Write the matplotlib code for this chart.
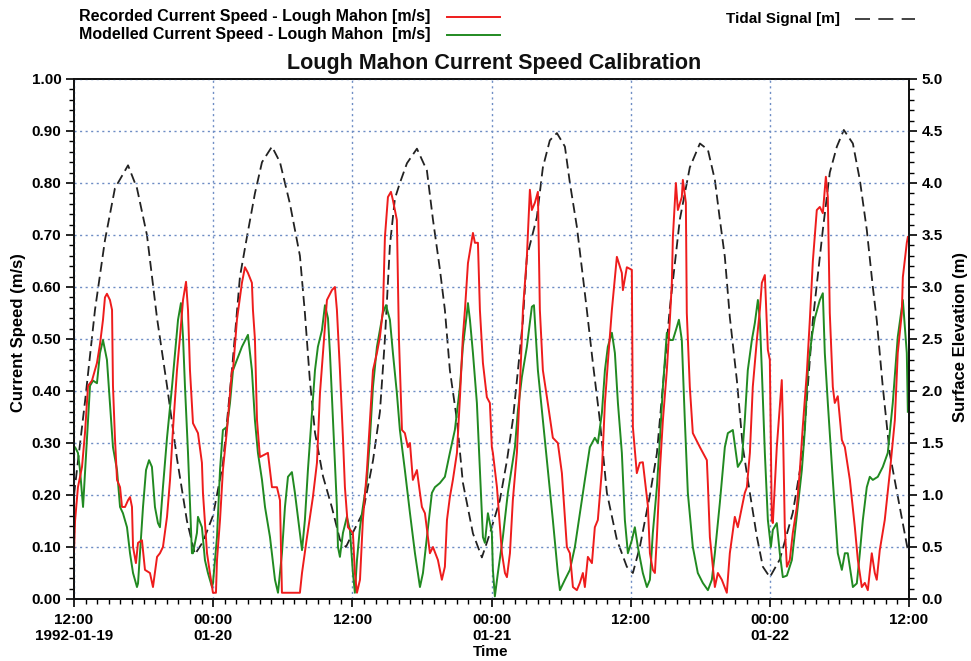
import numpy as np
import pandas as pd
import matplotlib
matplotlib.use('Agg')
import matplotlib.pyplot as plt
from matplotlib.lines import Line2D
from matplotlib.ticker import MultipleLocator, FixedLocator

plt.rcParams['font.family'] = ['Liberation Sans', 'DejaVu Sans']

START = pd.Timestamp('1992-01-19 12:00')

# (hours since 1992-01-19 12:00, surface elevation m)
tide = [(0.00,1.00),(0.95,1.90),(1.81,2.78),(2.67,3.45),(3.53,3.95),(4.66,4.17),(5.43,3.95),(6.29,3.50),
        (7.16,2.70),(8.02,2.05),(8.88,1.35),(9.74,0.75),(10.43,0.43),(11.12,0.55),(11.98,0.80),(12.84,1.30),
        (13.62,2.20),(14.31,3.10),(14.91,3.48),(15.60,3.90),(16.21,4.20),(17.07,4.35),(17.76,4.20),(18.62,3.80),
        (19.48,3.30),(19.91,2.75),(20.34,2.10),(20.78,1.60),(21.47,1.18),(22.24,0.88),(22.93,0.57),(23.45,0.50),
        (24.05,0.64),(24.91,0.83),(25.78,1.33),(26.38,1.80),(26.81,2.50),(27.24,3.40),(27.67,3.85),(28.10,4.00),
        (28.71,4.19),(29.57,4.33),(30.43,4.12),(30.95,3.65),(31.55,3.17),(31.98,2.78),(32.41,2.20),(33.02,1.72),
        (33.53,1.12),(34.40,0.63),(35.17,0.40),(35.86,0.63),(36.72,0.95),(37.33,1.33),(37.84,1.72),(38.28,2.20),
        (38.71,2.68),(39.05,3.29),(39.91,3.67),(40.43,4.15),(41.03,4.41),(41.64,4.48),(42.33,4.35),(42.76,4.00),
        (43.36,3.58),(43.88,3.10),(44.22,2.78),(44.74,2.27),(45.34,1.72),(45.95,1.02),(46.81,0.57),(47.67,0.31),
        (48.19,0.25),(48.79,0.50),(49.66,1.00),(50.26,1.40),(50.78,2.05),(51.38,2.80),(52.24,3.65),(53.10,4.15),
        (53.97,4.38),(54.66,4.32),(55.26,4.03),(55.69,3.65),(56.12,3.29),(56.55,2.71),(57.16,2.10),(57.67,1.46),
        (58.28,1.02),(58.88,0.60),(59.40,0.31),(60.00,0.21),(60.86,0.38),(61.98,0.83),(62.84,1.40),(63.45,2.30),
        (63.71,2.68),(64.57,3.55),(65.17,4.10),(65.78,4.35),(66.38,4.51),(67.16,4.38),(67.76,4.03),(68.36,3.55),
        (68.88,3.00),(69.22,2.68),(69.74,2.04),(70.34,1.40),(71.21,0.88),(71.90,0.47)]

# (hours, recorded current speed m/s)
recorded = [(0.00,0.09),(0.09,0.15),(0.34,0.215),(0.69,0.254),(0.95,0.32),(1.21,0.41),(1.55,0.42),(1.98,0.454),
    (2.24,0.49),(2.50,0.537),(2.67,0.58),(2.84,0.587),(3.10,0.575),(3.28,0.556),(3.36,0.41),(3.53,0.31),(3.71,0.229),
    (3.97,0.215),(4.14,0.177),(4.40,0.177),(4.66,0.19),(4.83,0.196),(5.00,0.177),(5.09,0.10),(5.34,0.069),(5.52,0.108),
    (5.86,0.113),(6.12,0.056),(6.55,0.05),(6.81,0.023),(7.16,0.081),(7.41,0.088),(7.67,0.10),(8.02,0.158),(8.28,0.229),
    (8.53,0.325),(8.88,0.44),(9.14,0.504),(9.40,0.575),(9.66,0.61),(9.83,0.556),(10.00,0.44),(10.26,0.338),(10.69,0.319),
    (11.03,0.262),(11.12,0.204),(11.47,0.088),(11.72,0.05),(11.98,0.012),(12.24,0.012),(12.33,0.075),(12.59,0.152),
    (12.84,0.248),(13.19,0.325),(13.62,0.44),(13.71,0.44),(14.05,0.537),(14.48,0.608),(14.74,0.638),(15.00,0.627),
    (15.34,0.608),(15.43,0.556),(15.60,0.50),(15.78,0.344),(16.03,0.273),(16.72,0.281),(17.07,0.215),(17.50,0.215),
    (17.76,0.19),(17.93,0.012),(19.48,0.012),(19.66,0.05),(20.09,0.119),(20.60,0.196),(20.95,0.262),(21.21,0.396),
    (21.47,0.473),(21.81,0.575),(22.24,0.594),(22.50,0.60),(22.67,0.556),(22.93,0.44),(23.19,0.31),(23.36,0.215),
    (23.53,0.165),(23.62,0.138),(24.05,0.127),(24.22,0.05),(24.40,0.012),(24.66,0.037),(24.91,0.152),(25.26,0.248),
    (25.52,0.344),(25.78,0.44),(26.12,0.473),(26.38,0.504),(26.64,0.556),(26.81,0.696),(27.07,0.773),(27.33,0.783),
    (27.50,0.767),(27.84,0.729),(28.02,0.50),(28.28,0.325),(28.53,0.319),(28.79,0.292),(28.97,0.30),(29.22,0.229),
    (29.57,0.248),(29.83,0.204),(30.00,0.177),(30.26,0.165),(30.69,0.088),(30.95,0.10),(31.38,0.075),(31.72,0.037),
    (31.98,0.062),(32.16,0.152),(32.41,0.196),(32.67,0.229),(33.02,0.281),(33.28,0.388),(33.53,0.504),(33.71,0.556),
    (33.97,0.646),(34.40,0.704),(34.57,0.685),(34.83,0.685),(35.00,0.556),(35.26,0.454),(35.60,0.388),(35.86,0.377),
    (36.03,0.292),(36.12,0.281),(36.47,0.215),(36.90,0.088),(37.16,0.05),(37.33,0.042),(37.59,0.088),(37.84,0.19),
    (38.19,0.281),(38.45,0.408),(38.71,0.556),(39.05,0.658),(39.31,0.787),(39.48,0.748),(39.74,0.762),(40.00,0.783),
    (40.17,0.556),(40.43,0.44),(40.78,0.388),(41.29,0.31),(41.72,0.30),(42.07,0.242),(42.50,0.10),(42.76,0.088),
    (43.02,0.023),(43.36,0.017),(43.62,0.031),(43.88,0.05),(44.05,0.023),(44.31,0.081),(44.66,0.069),(44.91,0.138),
    (45.17,0.152),(45.52,0.248),(45.78,0.377),(46.03,0.454),(46.38,0.556),(46.81,0.658),(47.24,0.627),(47.33,0.594),
    (47.67,0.638),(48.10,0.633),(48.19,0.331),(48.53,0.242),(48.79,0.262),(49.05,0.263),(49.40,0.196),(49.48,0.18),
    (49.66,0.088),(49.91,0.056),(50.09,0.05),(50.26,0.119),(50.52,0.248),(50.78,0.344),(51.12,0.44),(51.38,0.537),
    (51.55,0.608),(51.64,0.696),(51.90,0.80),(52.07,0.748),(52.41,0.773),(52.50,0.806),(52.76,0.762),(52.84,0.55),
    (53.10,0.408),(53.36,0.319),(53.97,0.292),(54.57,0.267),(54.66,0.22),(54.83,0.119),(55.26,0.023),(55.52,0.05),
    (55.86,0.037),(56.29,0.012),(56.55,0.088),(56.98,0.158),(57.24,0.138),(57.59,0.177),(57.84,0.204),(58.02,0.215),
    (58.28,0.281),(58.53,0.408),(58.88,0.498),(59.14,0.556),(59.31,0.608),(59.57,0.623),(59.83,0.479),(60.00,0.46),
    (60.17,0.152),(60.26,0.146),(60.60,0.292),(60.86,0.369),(61.03,0.421),(61.12,0.344),(61.29,0.138),(61.47,0.062),
    (61.72,0.075),(61.98,0.127),(62.33,0.177),(62.59,0.248),(62.84,0.331),(63.19,0.435),(63.45,0.537),(63.71,0.65),
    (64.05,0.748),(64.31,0.754),(64.57,0.742),(64.83,0.812),(65.00,0.773),(65.17,0.55),(65.43,0.408),(65.60,0.377),
    (65.86,0.39),(66.21,0.306),(66.47,0.292),(66.90,0.229),(67.33,0.138),(67.59,0.075),(67.93,0.023),(68.19,0.031),
    (68.45,0.017),(68.79,0.088),(69.05,0.05),(69.22,0.037),(69.48,0.094),(69.91,0.152),(70.34,0.242),(70.78,0.344),
    (71.03,0.473),(71.38,0.55),(71.47,0.619),(71.81,0.685),(71.90,0.696)]

# (hours, modelled current speed m/s)
modelled = [(0.00,0.29),(0.09,0.292),(0.34,0.281),(0.52,0.248),(0.78,0.177),(1.12,0.31),(1.38,0.41),(1.64,0.42),
    (1.98,0.415),(2.24,0.473),(2.50,0.498),(2.84,0.46),(3.10,0.377),(3.36,0.292),(3.71,0.248),(3.97,0.177),(4.22,0.165),
    (4.57,0.138),(4.83,0.088),(5.09,0.05),(5.43,0.023),(5.52,0.03),(5.69,0.088),(5.95,0.177),(6.21,0.248),(6.47,0.267),
    (6.72,0.254),(6.98,0.177),(7.24,0.146),(7.41,0.138),(7.67,0.215),(8.02,0.31),(8.45,0.408),(8.71,0.473),(8.97,0.537),
    (9.22,0.569),(9.40,0.504),(9.57,0.408),(9.83,0.281),(10.17,0.088),(10.26,0.088),(10.60,0.127),(10.69,0.158),
    (11.03,0.138),(11.29,0.075),(11.55,0.05),(11.90,0.023),(11.98,0.03),(12.33,0.119),(12.59,0.248),(12.84,0.325),
    (13.19,0.331),(13.45,0.377),(13.71,0.44),(14.05,0.46),(14.48,0.485),(14.91,0.504),(15.00,0.508),(15.34,0.44),
    (15.60,0.344),(15.86,0.281),(16.21,0.229),(16.47,0.177),(16.90,0.119),(17.33,0.037),(17.59,0.012),(17.93,0.088),
    (18.19,0.177),(18.45,0.235),(18.79,0.244),(19.05,0.204),(19.48,0.127),(19.66,0.094),(19.91,0.152),(20.17,0.248),
    (20.52,0.358),(20.78,0.44),(21.03,0.485),(21.38,0.517),(21.64,0.565),(21.90,0.54),(22.07,0.473),(22.33,0.344),
    (22.67,0.177),(22.76,0.10),(22.93,0.081),(23.19,0.127),(23.53,0.158),(23.79,0.133),(24.05,0.05),(24.22,0.012),
    (24.40,0.075),(24.66,0.138),(24.91,0.177),(25.26,0.229),(25.52,0.31),(25.78,0.408),(26.12,0.485),(26.38,0.517),
    (26.64,0.55),(26.90,0.565),(27.24,0.537),(27.50,0.473),(27.84,0.396),(28.10,0.325),(28.53,0.248),(28.97,0.165),
    (29.40,0.088),(29.83,0.023),(30.09,0.05),(30.43,0.119),(30.86,0.204),(31.12,0.215),(31.55,0.223),(31.98,0.235),
    (32.41,0.281),(32.84,0.325),(33.28,0.408),(33.53,0.485),(33.88,0.55),(33.97,0.569),(34.14,0.537),(34.40,0.473),
    (34.74,0.377),(35.00,0.248),(35.26,0.119),(35.43,0.108),(35.69,0.165),(36.03,0.127),(36.12,0.056),(36.29,0.005),
    (36.55,0.05),(36.98,0.119),(37.41,0.204),(37.76,0.254),(38.02,0.292),(38.28,0.363),(38.62,0.427),(39.05,0.485),
    (39.48,0.562),(39.66,0.565),(40.00,0.44),(40.43,0.344),(40.86,0.248),(41.29,0.152),(41.72,0.05),(41.90,0.017),
    (42.33,0.037),(42.76,0.056),(43.19,0.10),(43.62,0.165),(44.05,0.229),(44.48,0.292),(44.91,0.31),(45.17,0.30),
    (45.52,0.358),(45.78,0.44),(46.03,0.485),(46.38,0.512),(46.64,0.473),(46.90,0.377),(47.24,0.281),(47.50,0.152),
    (47.76,0.088),(48.10,0.113),(48.36,0.138),(48.62,0.10),(49.05,0.05),(49.40,0.023),(49.66,0.037),(49.91,0.127),
    (50.26,0.215),(50.52,0.306),(50.78,0.408),(51.12,0.512),(51.38,0.498),(51.64,0.498),(51.98,0.523),(52.16,0.537),
    (52.41,0.498),(52.67,0.344),(52.93,0.204),(53.36,0.10),(53.79,0.05),(54.22,0.031),(54.66,0.017),(55.00,0.037),
    (55.26,0.088),(55.69,0.185),(56.12,0.292),(56.38,0.319),(56.81,0.325),(57.24,0.254),(57.59,0.267),(57.84,0.344),
    (58.10,0.44),(58.45,0.498),(58.71,0.531),(58.97,0.575),(59.14,0.537),(59.31,0.44),(59.57,0.281),(59.83,0.152),
    (60.09,0.10),(60.26,0.133),(60.60,0.146),(60.86,0.088),(61.12,0.042),(61.47,0.045),(61.90,0.075),(62.16,0.127),
    (62.41,0.177),(62.76,0.248),(63.02,0.325),(63.28,0.44),(63.62,0.504),(63.88,0.54),(64.31,0.575),(64.57,0.588),
    (64.74,0.473),(65.00,0.377),(65.43,0.229),(65.86,0.088),(66.21,0.056),(66.47,0.088),(66.72,0.088),(67.16,0.023),
    (67.50,0.03),(67.76,0.088),(68.02,0.152),(68.36,0.215),(68.62,0.235),(68.88,0.229),(69.31,0.235),(69.74,0.254),
    (70.17,0.281),(70.60,0.377),(71.03,0.504),(71.47,0.575),(71.81,0.473),(71.90,0.36)]

xtick_hours = [0, 12, 24, 36, 48, 60, 72]
xtick_labels = ['12:00\n1992-01-19', '00:00\n01-20', '12:00', '00:00\n01-21', '12:00', '00:00\n01-22', '12:00']
left_ticks = [0.0, 0.1, 0.2, 0.3, 0.4, 0.5, 0.6, 0.7, 0.8, 0.9, 1.0]
right_ticks = [0.0, 0.5, 1.0, 1.5, 2.0, 2.5, 3.0, 3.5, 4.0, 4.5, 5.0]

title = 'Lough Mahon Current Speed Calibration'
label_rec = 'Recorded Current Speed - Lough Mahon [m/s]'
label_mod = 'Modelled Current Speed - Lough Mahon  [m/s]'
label_tide = 'Tidal Signal [m]'
ylabel_left = 'Current Speed (m/s)'
ylabel_right = 'Surface Elevation (m)'


def to_time(hours):
    return START + pd.to_timedelta(np.asarray(hours, dtype=float), unit='h')


def split(pairs):
    a = np.array(pairs)
    return to_time(a[:, 0]), a[:, 1]


RED = '#ee1c1c'
GREEN = '#218a21'
GRID = '#6d8cc4'

W, H = 971, 661
fig = plt.figure(figsize=(W / 100, H / 100), dpi=100)
L, R, T, B = 74, 909, 79, 599
ax = fig.add_axes([L / W, 1 - B / H, (R - L) / W, (B - T) / H])
ax2 = ax.twinx()
ax.set_zorder(ax2.get_zorder() + 1)
ax.patch.set_visible(False)

tx, ty = split(tide)
ax2.plot(tx, ty, color='#222222', lw=1.3, linestyle=(0, (5.5, 2.8)))

rx, ry = split(recorded)
mx, my = split(modelled)
ax.plot(mx, my, color=GREEN, lw=1.4)
ax.plot(rx, ry, color=RED, lw=1.4)

ax.set_xlim(to_time([0])[0], to_time([72])[0])
ax.set_ylim(0, 1.0)
ax2.set_ylim(0, 5.0)

xt = to_time(xtick_hours)
ax.set_xticks(xt)
ax.set_xticklabels(xtick_labels)
ax.xaxis.set_minor_locator(FixedLocator([matplotlib.dates.date2num(t) for t in to_time(np.arange(0, 73, 1))]))
ax.set_yticks(left_ticks)
ax.set_yticklabels(['%.2f' % v for v in left_ticks])
ax.yaxis.set_minor_locator(MultipleLocator(0.02))
ax2.set_yticks(right_ticks)
ax2.set_yticklabels(['%.1f' % v for v in right_ticks])
ax2.yaxis.set_minor_locator(MultipleLocator(0.1))

ax.grid(True, which='major', color=GRID, linestyle=(0, (1.5, 2.5)), lw=1.0)

for a in (ax, ax2):
    a.tick_params(which='major', direction='out', length=6, width=1.2, labelsize=11, pad=3)
    a.tick_params(which='minor', direction='out', length=3.5, width=1.0)
    for lab in a.get_xticklabels() + a.get_yticklabels():
        lab.set_fontweight('bold')
    for s in a.spines.values():
        s.set_linewidth(1.3)
        s.set_color('#111111')

ax.tick_params(axis='x', pad=4)
for lab in ax.get_xticklabels():
    lab.set_linespacing(1.15)

fig.text(19 / W, 1 - 333 / H, ylabel_left, ha='center', va='center', rotation=90,
         fontsize=12, fontweight='bold')
fig.text(960 / W, 1 - 337 / H, ylabel_right, ha='center', va='center', rotation=90,
         fontsize=12, fontweight='bold')

fig.text(494 / W, 1 - 63 / H, title, ha='center', va='center', fontsize=15.5, fontweight='bold', color='#111111')
fig.text(491 / W, 1 - 652 / H, 'Time', ha='center', va='center', fontsize=11, fontweight='bold')

# legend
fig.text(430 / W, 1 - 17 / H, label_rec, ha='right', va='center', fontsize=11.5, fontweight='bold')
fig.text(430 / W, 1 - 35 / H, label_mod, ha='right', va='center', fontsize=11.5, fontweight='bold')
fig.text(840 / W, 1 - 19 / H, label_tide, ha='right', va='center', fontsize=11, fontweight='bold')
fig.add_artist(Line2D([447 / W, 500 / W], [1 - 17 / H, 1 - 17 / H], color=RED, lw=1.4, transform=fig.transFigure))
fig.add_artist(Line2D([447 / W, 500 / W], [1 - 35 / H, 1 - 35 / H], color=GREEN, lw=1.4, transform=fig.transFigure))
fig.add_artist(Line2D([855 / W, 915 / W], [1 - 19 / H, 1 - 19 / H], color='#222222', lw=1.2,
                      linestyle=(0, (9, 5)), transform=fig.transFigure))

fig.savefig('out.png', dpi=100)
